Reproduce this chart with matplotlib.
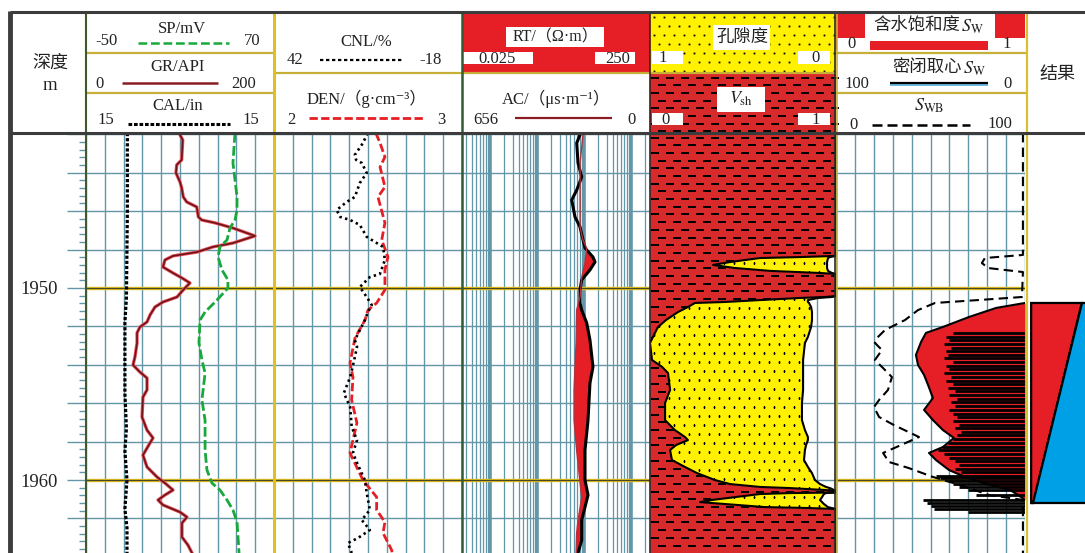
import numpy as np
import matplotlib
matplotlib.use("Agg")
import matplotlib.pyplot as plt
from matplotlib.path import Path
from matplotlib.patches import Rectangle
from matplotlib.ticker import MultipleLocator, FixedLocator, LogLocator, FuncFormatter

plt.rcParams['font.family'] = ['Liberation Serif', 'Noto Sans CJK SC', 'DejaVu Serif']
plt.rcParams['mathtext.fontset'] = 'stix'

# depth window (m) and curve scales
TOP, BOT = 1941.93, 1963.80
SP_MIN, SP_MAX = -50, 70
GR_MIN, GR_MAX = 0, 200
CAL_MIN, CAL_MAX = 6, 16
CNL_LEFT, CNL_RIGHT = 42, -18
DEN_MIN, DEN_MAX = 2, 3
RT_MIN, RT_MAX = 0.025, 250
AC_LEFT, AC_RIGHT = 656, 0

# ---- log curves ----
gr_depth = [1941.93, 1942.03, 1942.29, 1943.33, 1943.59, 1944.01, 1944.48, 1944.79, 1945.26, 1945.52,
            1945.78, 1946.30, 1946.46, 1946.61, 1946.88, 1947.29, 1947.66, 1947.86, 1948.13, 1948.33,
            1948.54, 1948.91, 1949.22, 1949.48, 1949.74, 1950.00, 1950.47, 1950.73, 1950.99, 1951.41,
            1951.77, 1952.03, 1952.34, 1952.86, 1953.59, 1954.01, 1954.38, 1954.69, 1955.31, 1955.68,
            1956.72, 1957.40, 1957.81, 1958.07, 1958.70, 1959.32, 1959.84, 1960.16, 1960.52, 1960.78,
            1961.04, 1961.30, 1961.67, 1961.93, 1962.24, 1962.97, 1963.39, 1963.80]
gr = [99.5, 100.0, 102.9, 101.8, 96.5, 95.7, 100.0, 101.8, 103.5, 107.1,
      117.8, 119.5, 123.1, 137.2, 156.4, 179.8, 156.4, 135.1, 118.1, 92.6,
      84.0, 81.9, 92.6, 102.1, 110.6, 105.3, 96.8, 81.9, 73.4, 68.1,
      64.9, 57.4, 54.3, 54.3, 52.1, 50.0, 57.4, 64.9, 64.9, 60.6,
      59.6, 64.9, 71.3, 68.1, 60.6, 64.9, 75.5, 84.0, 92.6, 84.0,
      76.6, 81.9, 100.0, 107.4, 102.1, 102.1, 108.5, 112.8]

sp_depth = [1941.93, 1943.49, 1945.26, 1945.94, 1946.46, 1946.88, 1947.50, 1947.86, 1948.39, 1949.06,
            1949.58, 1950.00, 1950.63, 1951.25, 1951.67, 1952.86, 1953.75, 1954.43, 1955.83, 1956.88,
            1958.44, 1959.48, 1960.16, 1960.52, 1961.04, 1961.56, 1962.19, 1963.80]
sp = [45.1, 43.8, 46.4, 46.4, 45.1, 41.9, 40.0, 35.5, 34.3, 36.8,
      40.6, 40.6, 33.6, 26.0, 22.8, 22.1, 24.0, 26.0, 24.0, 26.0,
      26.0, 27.2, 30.4, 35.5, 40.0, 43.8, 46.4, 47.7]

cal_depth = [1941.93, 1946.0, 1950.5, 1951.8, 1955.5, 1957.3, 1958.5, 1960.0, 1961.5, 1962.5, 1963.8]
cal = [8.2, 8.2, 8.15, 8.07, 8.07, 8.15, 8.07, 8.18, 8.07, 8.18, 8.18]

cnl_depth = [1941.93, 1942.03, 1942.45, 1943.07, 1943.33, 1943.49, 1944.01, 1944.53, 1945.26, 1945.52,
             1945.94, 1946.30, 1946.46, 1946.72, 1947.34, 1947.86, 1948.54, 1949.27, 1949.43, 1949.95,
             1950.47, 1950.89, 1951.25, 1951.67, 1952.71, 1953.07, 1954.11, 1954.64, 1955.47, 1956.20,
             1957.24, 1957.92, 1958.59, 1959.11, 1960.00, 1960.68, 1961.56, 1962.08, 1962.60, 1963.02,
             1963.28, 1963.80]
cnl = [12.4, 12.4, 13.6, 16.2, 15.8, 14.0, 12.4, 14.6, 16.2, 18.8,
       22.0, 20.9, 17.7, 14.6, 12.4, 7.2, 6.6, 8.2, 11.4, 14.6,
       12.4, 10.8, 12.0, 13.0, 16.2, 15.5, 16.9, 17.7, 19.7, 17.7,
       17.2, 15.5, 16.8, 15.5, 13.0, 12.4, 11.4, 14.0, 11.4, 15.2,
       18.4, 17.2]

den_depth = [1941.93, 1942.03, 1942.45, 1943.18, 1943.70, 1944.74, 1945.26, 1946.61, 1947.50, 1948.39,
             1949.06, 1950.10, 1950.78, 1951.15, 1951.67, 1952.60, 1953.91, 1954.64, 1955.83, 1957.03,
             1958.59, 1960.00, 1960.89, 1961.56, 1962.19, 1962.76, 1963.65, 1963.80]
den = [2.546, 2.546, 2.564, 2.590, 2.564, 2.590, 2.553, 2.590, 2.573, 2.606,
       2.590, 2.590, 2.546, 2.500, 2.484, 2.431, 2.404, 2.420, 2.413, 2.441,
       2.404, 2.473, 2.546, 2.546, 2.590, 2.580, 2.626, 2.628]

rt_depth = [1941.93, 1942.03, 1942.45, 1943.49, 1944.22, 1944.90, 1945.42, 1946.30, 1946.82, 1947.50,
            1947.92, 1948.39, 1948.65, 1949.06, 1949.58, 1950.10, 1950.78, 1951.15, 1951.82, 1952.71,
            1954.11, 1954.95, 1956.88, 1958.44, 1960.00, 1960.78, 1961.41, 1962.08, 1963.13, 1963.80]
rt = [8.1, 8.1, 6.9, 7.35, 8.8, 6.9, 5.4, 6.34, 8.1, 9.4,
      10.35, 15.3, 16.9, 13.2, 8.8, 8.1, 8.1, 8.8, 11.25, 13.2,
      15.3, 13.2, 12.0, 10.35, 10.35, 12.0, 10.35, 8.8, 8.8, 7.35]

ac_depth = [1941.93, 1942.03, 1943.49, 1945.26, 1946.82, 1947.50, 1947.92, 1948.70, 1949.43, 1950.47,
            1951.15, 1952.86, 1955.31, 1956.88, 1958.44, 1960.16, 1960.89, 1962.08, 1962.76, 1963.80]
ac = [234, 234, 244, 244, 244, 234, 221, 227, 238, 244,
      256, 258, 265, 265, 256, 244, 238, 251, 256, 258]

# ---- lithology: shale volume and porosity (fractions) ----
lith_depth = [1941.93, 1948.33, 1948.39, 1948.44, 1948.65, 1948.80, 1948.96, 1949.11, 1949.22, 1949.27,
              1950.42, 1950.47, 1950.52, 1950.63, 1950.73, 1950.78, 1950.99, 1951.25, 1951.67, 1952.03,
              1952.55, 1952.86, 1953.75, 1954.11, 1954.43, 1955.31, 1955.99, 1956.88, 1957.40, 1957.76,
              1957.92, 1958.18, 1958.44, 1958.96, 1959.32, 1959.64, 1960.00, 1960.21, 1960.36, 1960.42,
              1960.52, 1960.57, 1960.65, 1960.68, 1960.73, 1960.89, 1961.04, 1961.15, 1961.25, 1961.41,
              1961.46, 1961.51, 1963.80]
vsh = [1, 1, 0.806, 0.591, 0.430, 0.339, 0.457, 0.645, 0.914, 1,
       1, 0.941, 0.806, 0.591, 0.403, 0.242, 0.204, 0.151, 0.086, 0.043,
       0.016, 0.0, 0.011, 0.065, 0.097, 0.108, 0.081, 0.081, 0.134, 0.188,
       0.204, 0.140, 0.108, 0.118, 0.188, 0.253, 0.349, 0.430, 0.591, 0.753,
       0.941, 1, 1, 0.753, 0.591, 0.457, 0.333, 0.269, 0.403, 0.618,
       0.860, 1, 1]
phi = [0, 0, 0.032, 0.043, 0.048, 0.048, 0.048, 0.043, 0.022, 0,
       0, 0.022, 0.097, 0.151, 0.151, 0.145, 0.134, 0.129, 0.129, 0.134,
       0.151, 0.167, 0.177, 0.177, 0.177, 0.177, 0.183, 0.183, 0.167, 0.151,
       0.151, 0.161, 0.167, 0.172, 0.151, 0.129, 0.113, 0.086, 0.054, 0.032,
       0.011, 0, 0, 0.054, 0.065, 0.075, 0.086, 0.075, 0.065, 0.043,
       0.022, 0, 0]

# ---- saturation ----
sw_depth = [1941.93, 1950.75, 1950.78, 1951.04, 1951.51, 1952.03, 1952.34, 1952.81, 1953.49, 1954.01,
            1954.53, 1955.05, 1955.73, 1956.35, 1956.88, 1957.40, 1957.81, 1958.28, 1958.59, 1958.96,
            1959.48, 1959.84, 1960.26, 1960.52, 1960.78, 1961.04, 1963.80]
sw = [1.0, 1.0, 1.0, 0.847, 0.704, 0.566, 0.476, 0.450, 0.423, 0.434,
      0.466, 0.487, 0.513, 0.466, 0.513, 0.566, 0.624, 0.566, 0.492, 0.529,
      0.598, 0.683, 0.815, 0.921, 0.963, 1.0, 1.0]

swb_depth = [1941.93, 1948.28, 1948.44, 1948.70, 1948.96, 1949.17, 1950.47, 1950.63, 1950.78, 1951.15,
             1951.67, 1952.19, 1952.60, 1952.86, 1953.23, 1953.75, 1954.11, 1954.64, 1955.31, 1955.83,
             1956.20, 1956.72, 1957.14, 1957.76, 1958.18, 1958.59, 1959.06, 1959.38, 1959.84, 1960.26,
             1960.78, 1960.94, 1961.04, 1963.80]
swb = [98.9, 98.9, 78.8, 77.2, 80.4, 98.9, 98.4, 75.1, 52.4, 43.4,
       36.5, 25.9, 21.7, 20.6, 24.3, 20.6, 24.3, 29.6, 27.5, 22.8,
       20.1, 22.8, 30.7, 43.9, 34.4, 24.9, 28.0, 38.6, 51.3, 65.6,
       81.0, 92.1, 98.9, 98.9]

# sealed-core water saturation samples (%)
core_depth = [1952.34, 1952.53, 1952.71, 1952.92, 1953.10, 1953.28, 1953.49, 1953.67, 1953.85, 1954.06,
              1954.24, 1954.43, 1954.64, 1954.82, 1955.00, 1955.21, 1955.39, 1955.57, 1955.78, 1955.96,
              1956.15, 1956.35, 1956.54, 1956.72, 1956.93, 1957.11, 1957.29, 1957.50, 1957.68, 1957.86,
              1958.07, 1958.26, 1958.44, 1958.65, 1958.83, 1959.01, 1959.22, 1959.40, 1959.58, 1959.77,
              1959.90, 1960.05, 1960.21, 1960.36, 1960.52, 1960.78, 1961.04, 1961.20, 1961.35, 1961.51,
              1961.67]
core_sw = [38, 42, 40, 43, 39, 42, 41, 43, 38, 42,
           40, 43, 39, 42, 38, 41, 37, 40, 36, 39,
           37, 40, 38, 36, 38, 35, 37, 34, 36, 38,
           41, 44, 46, 43, 40, 37, 35, 37, 34, 47,
           45, 41, 38, 35, 30, 26, 54, 52, 50, 48,
           30]

# interpreted result interval
result_top, result_bottom = 1950.78, 1961.20

RED = '#e61e25'
SHALE_RED = '#d8292b'
YELLOW = '#fff100'
BLUE = '#00a0e6'
GRID = '#6396a6'
OLIVE = '#c8b038'
DARK = '#3c3c3c'
TXT = '#222222'

W, H = 1085, 553
HEAD = 133
fig = plt.figure(figsize=(W / 100, H / 100), dpi=100)

# overlay in pixel units for the header, borders and fill patterns
ov = fig.add_axes([0, 0, 1, 1], zorder=10)
ov.set_xlim(0, W)
ov.set_ylim(H, 0)
ov.axis('off')


def track(x0, x1):
    ax = fig.add_axes([x0 / W, 0, (x1 - x0) / W, (H - HEAD) / H])
    ax.set_ylim(BOT, TOP)
    for s in ax.spines.values():
        s.set_visible(False)
    ax.tick_params(axis='y', which='both', left=False, right=False, labelleft=False)
    return ax


def twin(ax, lo, hi, scale='linear'):
    t = ax.twiny()
    t.set_xscale(scale)
    t.set_xlim(lo, hi)
    for s in t.spines.values():
        s.set_visible(False)
    return t


def depth_grid(ax, xticks=None, marker_lines=True):
    if xticks is not None:
        ax.xaxis.set_major_locator(FixedLocator(xticks))
        ax.grid(True, axis='x', color=GRID, lw=1.0)
    ax.yaxis.set_major_locator(MultipleLocator(2))
    ax.grid(True, axis='y', color=GRID, lw=1.0)
    ax.set_axisbelow(True)
    if marker_lines:
        for d in (1950, 1960):
            ax.axhline(d, color='#e2c21c', lw=2.4, zorder=1.5)
            ax.axhline(d, color='#4a4628', lw=0.9, zorder=1.6)


def pattern_marks(x0, x1, y0, y1, kind):
    if kind == 'shale':
        dy, dx, first = 7.7, 15.0, 4.5
    else:
        dy, dx, first = 9.0, 10.0, 4.0
    xs, ys = [], []
    for i, yy in enumerate(np.arange(y0 + first, y1, dy)):
        shift = dx / 2 if i % 2 else 0
        for xx in np.arange(x0 + first + shift, x1, dx):
            xs.append(xx)
            ys.append(yy)
    return xs, ys


def draw_pattern(host, xs, ys, kind, clip=None, z=2):
    if kind == 'shale':
        ln, = host.plot(xs, ys, ls='none', marker='_', ms=5.6, mew=1.35, color='k',
                        transform=ov.transData, zorder=z)
    else:
        ln, = host.plot(xs, ys, ls='none', marker='s', ms=1.3, mew=0, color='k',
                        transform=ov.transData, zorder=z)
    if clip is not None:
        ln.set_clip_path(*clip)
    return ln


# ---------------- track 1: SP / GR / CAL ----------------
ax1 = track(86, 274)
ax1.set_xlim(GR_MIN, GR_MAX)
depth_grid(ax1, np.linspace(GR_MIN, GR_MAX, 11))
ax1.plot(gr, gr_depth, color='#ea5560', lw=2.4, zorder=3)
ax1.plot(gr, gr_depth, color='#6e1418', lw=1.2, zorder=3.1)
ax1s = twin(ax1, SP_MIN, SP_MAX)
ax1s.plot(sp, sp_depth, color='#19a83b', lw=2.0, dashes=(3.5, 1.2))
ax1c = twin(ax1, CAL_MIN, CAL_MAX)
ax1c.plot(cal, cal_depth, color='k', lw=2.3, dashes=(1, 0.6))

# depth scale on the left edge of track 1
ax1.yaxis.set_minor_locator(MultipleLocator(0.4))
ax1.yaxis.set_major_formatter(FuncFormatter(
    lambda v, p: f'{v:.0f}' if abs(v - round(v)) < 1e-6 and round(v) % 10 == 0 else ''))
ax1.tick_params(axis='y', which='major', left=True, labelleft=True, direction='out',
                length=13.7, width=1.0, color=GRID, pad=6.5, labelsize=13.5, labelcolor=TXT)
ax1.tick_params(axis='y', which='minor', left=True, direction='out', length=5, width=1.0, color=GRID)

# ---------------- track 2: CNL / DEN ----------------
ax2 = track(274, 462)
ax2.set_xlim(DEN_MIN, DEN_MAX)
depth_grid(ax2, np.linspace(DEN_MIN, DEN_MAX, 11))
ax2.plot(den, den_depth, color=RED, lw=2.0, dashes=(3, 1.2), zorder=3)
ax2c = twin(ax2, CNL_LEFT, CNL_RIGHT)
ax2c.plot(cnl, cnl_depth, color='k', lw=1.9, dashes=(0.9, 1.3))

# ---------------- track 3: RT / AC ----------------
ax3 = track(462, 650)
ax3.set_xscale('log')
ax3.set_xlim(RT_MIN, RT_MAX)
ax3.xaxis.set_major_locator(FixedLocator([0.1, 1, 10, 100]))
ax3.xaxis.set_minor_locator(LogLocator(base=10, subs=np.arange(2, 10), numticks=30))
ax3.grid(True, which='major', axis='x', color=GRID, lw=2.6)
ax3.grid(True, which='minor', axis='x', color=GRID, lw=0.9)
depth_grid(ax3)
fd = np.linspace(TOP, BOT, 1500)
rt_i = 10 ** np.interp(fd, rt_depth, np.log10(rt))
ac_frac = (AC_LEFT - np.interp(fd, ac_depth, ac)) / (AC_LEFT - AC_RIGHT)
ac_as_rt = RT_MIN * (RT_MAX / RT_MIN) ** ac_frac
ax3.fill_betweenx(fd, ac_as_rt, rt_i, where=rt_i > ac_as_rt, interpolate=True,
                  color=RED, lw=0, zorder=2)
ax3.plot(rt, rt_depth, color='k', lw=2.2, zorder=3)
ax3a = twin(ax3, AC_LEFT, AC_RIGHT)
ax3a.plot(ac, ac_depth, color='#b4303c', lw=1.0)

# ---------------- track 4: lithology ----------------
ax4 = track(650, 836)
ax4.set_xlim(0, 1)
depth_grid(ax4, np.linspace(0, 1, 11), marker_lines=False)
vsh_a = np.array(vsh)
sand_right = 1 - np.array(phi)
shale = ax4.fill_betweenx(lith_depth, 0, vsh_a, color=SHALE_RED, lw=0, zorder=1)
sand = ax4.fill_betweenx(lith_depth, vsh_a, sand_right, color=YELLOW, lw=0, zorder=1)
sx, sy = pattern_marks(650, 836, HEAD, H, 'shale')
draw_pattern(ax4, sx, sy, 'shale',
             (Path.make_compound_path(*shale.get_paths()), ax4.transData))
dx_, dy_ = pattern_marks(650, 836, HEAD, H, 'sand')
draw_pattern(ax4, dx_, dy_, 'sand',
             (Path.make_compound_path(*sand.get_paths()), ax4.transData))
ax4.plot(vsh_a, lith_depth, color='k', lw=1.5, zorder=3)
ax4.plot(sand_right, lith_depth, color='k', lw=1.5, zorder=3)

# ---------------- track 5: saturation ----------------
ax5 = track(836, 1025)
ax5.set_xlim(0, 1)
depth_grid(ax5, np.linspace(0, 1, 11))
sw_a = np.array(sw)
ax5.fill_betweenx(sw_depth, sw_a, 1, color=RED, lw=0, zorder=2)
edge = np.convolve((sw_a < 1).astype(int), [1, 1, 1], 'same') > 0
ax5.plot(sw_a[edge], np.array(sw_depth)[edge], color='k', lw=1.5, zorder=3)
ax5b = twin(ax5, 0, 100)
ax5b.plot(swb, swb_depth, color='k', lw=1.5, dashes=(4.5, 2.5))
ax5c = twin(ax5, 100, 0)
ax5c.hlines(core_depth, core_sw, 0, color='k', lw=2.0)

# ---------------- track 6: result ----------------
ax6 = track(1027, 1110)
ax6.set_xlim(0, 1)
ax6.set_xticks([])
ax6.set_yticks([])
bx0, bx1, top_cut, bot_cut = 0.05, 0.9, 0.66, 0.075
ax6.fill([bx0, top_cut, bot_cut, bx0], [result_top, result_top, result_bottom, result_bottom],
         color=RED, ec='k', lw=1.6)
ax6.fill([top_cut, bx1, bx1, bot_cut], [result_top, result_top, result_bottom, result_bottom],
         color=BLUE, ec='k', lw=1.6)

for a in fig.axes:
    if a is ov:
        continue
    a.tick_params(axis='x', which='both', bottom=False, top=False,
                  labelbottom=False, labeltop=False)

# ---------------- header ----------------


def txt(x, y, s, size=12, ha='center', clip=None, **kw):
    t = ov.text(x, y, s, ha=ha, va='center', fontsize=size, color=TXT, zorder=6, **kw)
    if clip is not None:
        t.set_clip_path(clip)
    return t


def box(x, y, w, h, color='white', z=4):
    r = Rectangle((x, y), w, h, facecolor=color, edgecolor='none', zorder=z)
    ov.add_patch(r)
    return r


def seg(xs, ys, color, lw, z=7, **kw):
    ov.plot(xs, ys, color=color, lw=lw, zorder=z, solid_capstyle='butt', **kw)


# depth column
txt(50, 63, '深度', 13)
txt(50, 86, 'm', 13.5)

# track 1
txt(182, 29, 'SP/mV')
txt(106, 41, '-50')
txt(252, 41, '70')
seg([138, 229], [42.5, 42.5], '#19a83b', 1.8, dashes=(3.5, 1.5))
txt(178, 67, 'GR/API')
txt(100, 84, '0')
txt(244, 84, '200')
seg([122, 218], [83, 83], '#8b1c24', 1.8)
txt(178, 106, 'CAL/in')
txt(106, 120, '15')
txt(251, 120, '15')
seg([128, 230], [124, 124], 'k', 2.2, dashes=(1.2, 0.6))

# track 2
txt(366, 42, 'CNL/%')
txt(295, 60, '42')
txt(431, 60, '-18')
seg([320, 403], [59.5, 59.5], 'k', 1.6, dashes=(1.5, 1.2))
txt(367, 99, 'DEN/（g·cm⁻³）')
txt(291, 120, '2')
txt(441, 120, '3')
seg([309, 424], [118, 118], RED, 2.0, dashes=(3, 1.2))

# track 3
box(462, 13, 188, 59, RED, z=1)
box(506, 27, 98, 20)
b_lo = box(463, 52, 70, 12)
b_hi = box(595, 52, 40, 12)
txt(555, 37, 'RT/（Ω·m）', 11.5)
txt(497, 59, '0.025', clip=b_lo)
txt(618, 59, '250', clip=b_hi)
txt(556, 99, 'AC/（μs·m⁻¹）')
txt(486, 120, '656')
txt(631, 120, '0')
seg([515, 612], [118, 118], '#8b1c24', 1.6)

# track 4
box(650, 13, 186, 60, YELLOW, z=1)
hx, hy = pattern_marks(650, 836, 13, 73, 'sand')
draw_pattern(ov, hx, hy, 'sand', z=2)
box(650, 73, 186, 60, SHALE_RED, z=1)
hx, hy = pattern_marks(650, 836, 73, 133, 'shale')
draw_pattern(ov, hx, hy, 'shale', z=2)
box(713, 25, 57, 25)
box(652, 51, 31, 13)
box(798, 51, 32, 13)
txt(742, 38, '孔隙度', 12.5)
txt(663, 58, '1')
txt(816, 58, '0')
box(717, 87, 48, 25)
box(652, 113, 31, 12)
box(798, 113, 32, 12)
txt(741, 99, r'$V_{\mathrm{sh}}$', 13)
txt(665, 120, '0')
txt(816, 120, '1')

# track 5
box(836, 13, 189, 37, RED, z=1)
box(865, 13, 130, 25)
b0 = box(837, 38, 33, 12)
b1 = box(988, 38, 37, 12)
box(870, 38, 118, 2.5)
txt(960, 26, '含水饱和度', 12.5, ha='right')
txt(961, 27, r'$S_{\mathrm{W}}$', 13, ha='left')
txt(851, 44, '0', clip=b0)
txt(1007, 44, '1', clip=b1)
txt(962, 68, '密闭取心', 12.5, ha='right')
txt(963, 69, r'$S_{\mathrm{W}}$', 13, ha='left')
txt(857, 84, '100')
txt(1008, 84, '0')
seg([890, 988], [84.5, 84.5], '#5ab4e0', 1.3)
seg([890, 988], [82.5, 82.5], 'k', 1.6)
txt(929, 106, r'$S_{\mathrm{WB}}$', 13)
txt(853, 125, '0')
txt(1000, 124, '100')
seg([872, 970], [125, 125], 'k', 1.8, dashes=(4, 2))

# track 6
txt(1057, 75, '结果', 13)

# header row dividers
for y in (53, 93):
    seg([86, 274], [y, y], OLIVE, 1.6)
    seg([836, 1027], [y, y], OLIVE, 1.6)
seg([274, 836], [73, 73], OLIVE, 1.6)

# frame and track separators
seg([10, W], [12, 12], DARK, 2.2, z=8)
seg([10, W], [133, 133], DARK, 2.2, z=8)
seg([10, 10], [11, H], DARK, 3.5, z=8)
seg([86, 86], [12, H], '#3e5a2e', 1.5)
seg([274, 274], [12, H], '#e0c020', 2.2)
seg([462, 462], [12, H], '#2f5d33', 1.8)
seg([650, 650], [12, H], '#3a2020', 1.2)
seg([835, 835], [12, H], '#2a2a2a', 1.2)
seg([837, 837], [12, H], OLIVE, 1.2)
seg([1027, 1027], [12, H], '#d8c030', 1.6)

fig.savefig('out.png', dpi=100)
